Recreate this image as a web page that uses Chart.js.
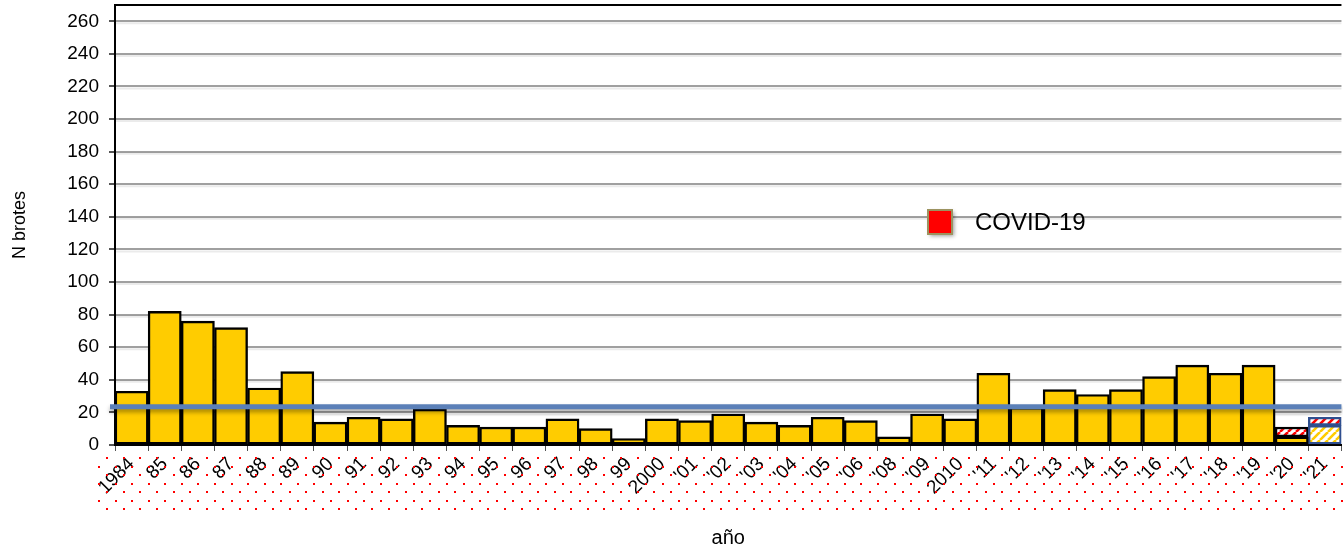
<!DOCTYPE html>
<html>
<head>
<meta charset="utf-8">
<script src="https://cdn.jsdelivr.net/npm/chart.js@4/dist/chart.umd.min.js"></script>
<style>
  html, body { margin: 0; padding: 0; background: #fff; }
  #wrap { width: 1343px; height: 551px; }
</style>
</head>
<body>
<div id="wrap"><canvas id="brotesChart" width="1343" height="551"></canvas></div>
<script>
// Year labels as shown on the x axis ('07 is not in the series)
const years = ['1984', '85', '86', '87', '88', '89', '90', '91', '92', '93', '94', '95', '96', '97', '98', '99',
  '2000', "'01", "'02", "'03", "'04", "'05", "'06", "'08", "'09", '2010',
  "'11", "'12", "'13", "'14", "'15", "'16", "'17", "'18", "'19", "'20", "'21"];

// Outbreaks per year (solid yellow)
const brotes = [33, 82, 76, 72, 35, 45, 14, 17, 16, 22, 12, 11, 11, 16, 10, 4,
  16, 15, 19, 14, 12, 17, 15, 5, 19, 16,
  44, 23, 34, 31, 34, 42, 49, 44, 49, 5, null];

// 2021 (hatched yellow, provisional)
const brotes2021 = [null, null, null, null, null, null, null, null, null, null, null, null, null, null, null, null,
  null, null, null, null, null, null, null, null, null, null,
  null, null, null, null, null, null, null, null, null, null, 12];

// COVID-19 outbreaks (red hatched)
const covid = [null, null, null, null, null, null, null, null, null, null, null, null, null, null, null, null,
  null, null, null, null, null, null, null, null, null, null,
  null, null, null, null, null, null, null, null, null, 6, 5];

const yTicks = [0, 20, 40, 60, 80, 100, 120, 140, 160, 180, 200, 220, 240, 260];
const yMax = 270;
const lineaReferencia = 23.5;

const FONT = '"Liberation Sans", Arial, sans-serif';

function stripes(color) {
    const c = document.createElement('canvas');
    c.width = 8; c.height = 8;
    const g = c.getContext('2d');
    g.fillStyle = '#fff';
    g.fillRect(0, 0, 8, 8);
    g.strokeStyle = color;
    g.lineWidth = 2.6;
    g.beginPath();
    for (let k = -8; k <= 16; k += 8) {
        g.moveTo(k, 8);
        g.lineTo(k + 8, 0);
    }
    g.stroke();
    return g.createPattern(c, 'repeat');
}

const ctx = document.getElementById('brotesChart').getContext('2d');
const redHatch = stripes('#ff0000');
const yellowHatch = stripes('#ffcc00');

// Red dotted background behind the year labels, grid shadows, reference line, legend
const decorPlugin = {
    id: 'decor',
    beforeDatasetsDraw(chart) {
        const a = chart.chartArea;
        const c = chart.ctx;
        c.save();
        // soft shadow under each grey gridline
        c.strokeStyle = 'rgba(0,0,0,0.08)';
        c.lineWidth = 2;
        yTicks.forEach(v => {
            if (v === 0) return;
            const gy = chart.scales.y.getPixelForValue(v) + 2;
            c.beginPath();
            c.moveTo(a.left, gy);
            c.lineTo(a.right, gy);
            c.stroke();
        });
        const step = (a.right - a.left) / years.length / 2;
        c.fillStyle = '#ff0000';
        let row = 0;
        for (let y = a.bottom + 12; y <= a.bottom + 64; y += 8.5, row++) {
            for (let x = a.left - 17 + (row % 2 ? 0 : step / 2); x < chart.width; x += step) {
                c.fillRect(Math.round(x), Math.round(y), 2, 2);
            }
        }
        c.restore();
    },
    afterDatasetsDraw(chart) {
        const a = chart.chartArea;
        const c = chart.ctx;
        const y = chart.scales.y.getPixelForValue(lineaReferencia);
        c.save();
        c.shadowColor = 'rgba(0,0,0,0.35)';
        c.shadowBlur = 4;
        c.shadowOffsetY = 3;
        c.strokeStyle = '#5b80b8';
        c.lineWidth = 5;
        c.beginPath();
        c.moveTo(a.left - 5, y);
        c.lineTo(a.right, y);
        c.stroke();
        c.restore();

        // legend
        c.save();
        const lx = 928, ly = 210;
        c.shadowColor = 'rgba(0,0,0,0.4)';
        c.shadowBlur = 4;
        c.shadowOffsetX = 2;
        c.shadowOffsetY = 2;
        c.fillStyle = '#ff0000';
        c.fillRect(lx, ly, 24, 24);
        c.shadowColor = 'transparent';
        c.strokeStyle = '#9c9360';
        c.lineWidth = 2;
        c.strokeRect(lx, ly, 24, 24);
        c.fillStyle = '#000';
        c.font = '24px ' + FONT;
        c.textBaseline = 'middle';
        c.fillText('COVID-19', 975, ly + 13);
        c.restore();
    }
};

const len = years.length;
new Chart(ctx, {
    type: 'bar',
    data: {
        labels: years,
        datasets: [
            {
                label: 'Brotes',
                data: brotes,
                backgroundColor: '#ffcc00',
                borderColor: '#000',
                borderWidth: 2.4,
                borderSkipped: false,
                stack: 's'
            },
            {
                label: 'Brotes 2021',
                data: brotes2021,
                backgroundColor: yellowHatch,
                borderColor: '#2f4f8f',
                borderWidth: 2.4,
                borderSkipped: false,
                stack: 's'
            },
            {
                label: 'COVID-19',
                data: covid,
                backgroundColor: redHatch,
                borderColor: years.map((y, i) => i === len - 1 ? '#2f4f8f' : '#000'),
                borderWidth: 2.4,
                borderSkipped: false,
                stack: 's'
            }
        ]
    },
    options: {
        responsive: false,
        animation: false,
        layout: { padding: { top: 5, right: 0, left: 0, bottom: 0 } },
        datasets: { bar: { categoryPercentage: 1, barPercentage: 1 } },
        plugins: {
            legend: { display: false },
            tooltip: { enabled: false }
        },
        scales: {
            x: {
                stacked: true,
                border: { color: '#000', width: 2 },
                grid: {
                    drawOnChartArea: false,
                    drawTicks: true,
                    tickLength: 6,
                    tickColor: '#555',
                    offset: true
                },
                ticks: {
                    autoSkip: false,
                    maxRotation: 45,
                    minRotation: 45,
                    padding: 2,
                    color: '#000',
                    font: { family: FONT, size: 19 }
                },
                title: {
                    display: true,
                    text: 'año',
                    color: '#000',
                    font: { family: FONT, size: 20 },
                    padding: { top: 0, bottom: 1 }
                },
                afterFit(s) { s.height = 106; }
            },
            y: {
                stacked: true,
                min: 0,
                max: yMax,
                border: { color: '#000', width: 2 },
                grid: {
                    color: c => c.tick && c.tick.value === yMax ? '#000' : '#a0a0a0',
                    lineWidth: 2,
                    tickColor: c => c.tick && c.tick.value === yMax ? 'rgba(0,0,0,0)' : '#555',
                    tickLength: 6
                },
                ticks: {
                    padding: 10,
                    color: '#000',
                    font: { family: FONT, size: 19 },
                    callback: v => v === yMax ? '' : v
                },
                afterBuildTicks(s) {
                    s.ticks = yTicks.concat([yMax]).map(v => ({ value: v }));
                },
                title: {
                    display: true,
                    text: 'N brotes',
                    color: '#000',
                    font: { family: FONT, size: 18 },
                    padding: { top: 9, bottom: 0 }
                },
                afterFit(s) {
                    s.width = 115;
                    s.paddingTop = 0;
                    s.paddingBottom = 0;
                }
            }
        }
    },
    plugins: [decorPlugin]
});
</script>
</body>
</html>
